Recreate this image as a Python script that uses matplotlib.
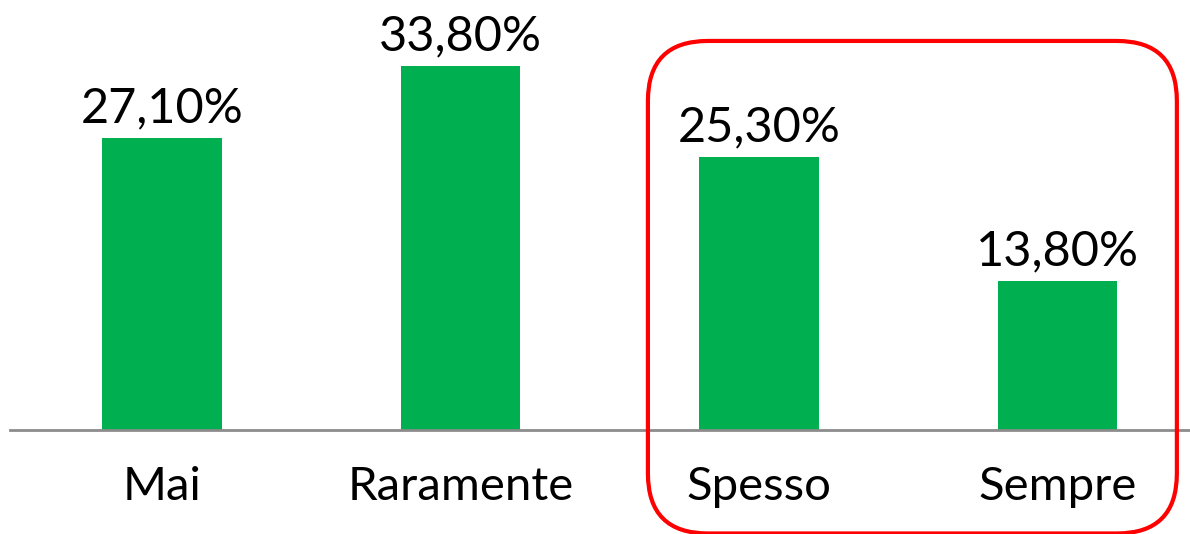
import matplotlib
matplotlib.use('Agg')
import matplotlib.pyplot as plt
from matplotlib.patches import FancyBboxPatch
from matplotlib.transforms import IdentityTransform

categories = ['Mai', 'Raramente', 'Spesso', 'Sempre']
values = [27.1, 33.8, 25.3, 13.8]
value_labels = ['27,10%', '33,80%', '25,30%', '13,80%']

plt.rcParams['font.family'] = ['Lato', 'DejaVu Sans']

fig = plt.figure(figsize=(11.9, 5.34), dpi=100)
ax = fig.add_axes([10 / 1190, 104 / 534, 1180 / 1190, 430 / 534])

x = list(range(len(categories)))
ax.bar(x, values, width=0.4, color='#00B050', zorder=2)
ax.set_xlim(-0.509, 3.444)
ax.set_ylim(0, 39.9)

for xi, v, lab in zip(x, values, value_labels):
    ax.text(xi, v + 0.7, lab, ha='center', va='bottom', fontsize=35, color='black')

for xi, cat in zip(x, categories):
    ax.text(xi, -5.3, cat, ha='center', va='center', fontsize=34, color='black',
            clip_on=False)

for s in ['top', 'right', 'left']:
    ax.spines[s].set_visible(False)
ax.spines['bottom'].set_color('#8C8C8C')
ax.spines['bottom'].set_linewidth(2)
ax.set_xticks([])
ax.set_yticks([])

# red rounded highlight around the last two categories
fig.canvas.draw()
x0, y0 = ax.transData.transform((1.628, -9.6))
x1, y1 = ax.transData.transform((3.40, 36.1))
box = FancyBboxPatch((x0, y0), x1 - x0, y1 - y0,
                     boxstyle='round,pad=0,rounding_size=60',
                     transform=IdentityTransform(), fill=False,
                     edgecolor='#FF0000', linewidth=3, zorder=5)
fig.patches.append(box)

fig.savefig('out.png', dpi=100)
